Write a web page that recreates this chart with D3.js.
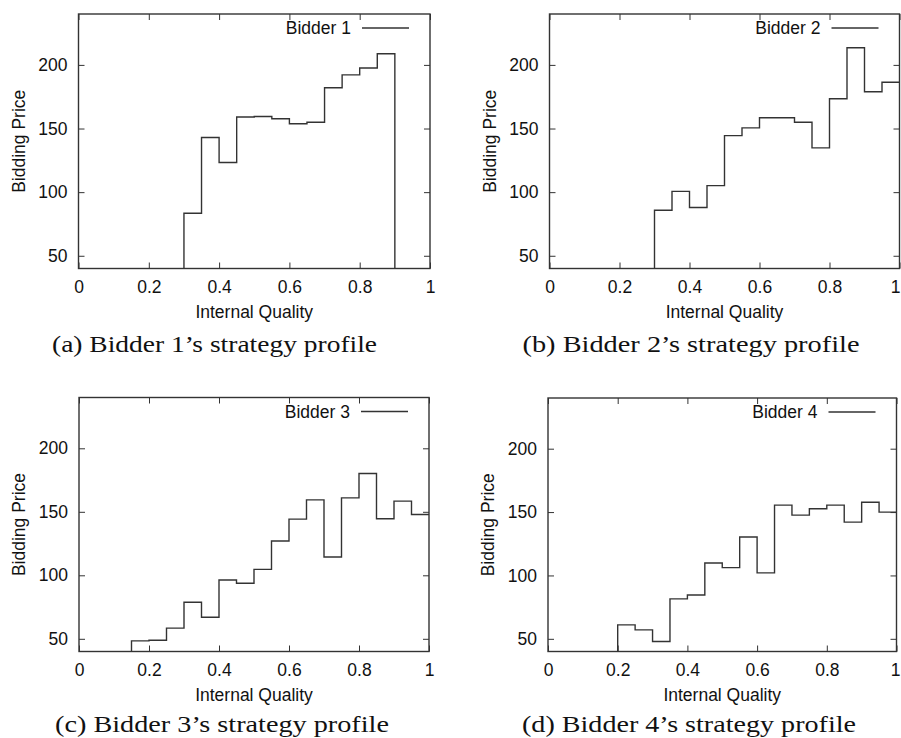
<!DOCTYPE html>
<html>
<head>
<meta charset="utf-8">
<script src="https://cdn.jsdelivr.net/npm/d3@7"></script>
<style>
  html, body { margin: 0; padding: 0; background: #fff; }
  svg { display: block; }
</style>
</head>
<body>
<svg id="chart" width="901" height="738"></svg>
<script>
// ---------------- DATA ----------------
const qualityBins = [0, 0.05, 0.1, 0.15, 0.2, 0.25, 0.3, 0.35, 0.4, 0.45,
                     0.5, 0.55, 0.6, 0.65, 0.7, 0.75, 0.8, 0.85, 0.9, 0.95];
const bidder1 = [0, 0, 0, 0, 0, 0, 83.4, 142.9, 123.3, 159, 159.5, 157.7, 153.8, 154.9, 182, 192.2, 197.6, 208.8, 0, 0];
const bidder2 = [0, 0, 0, 0, 0, 0, 85.8, 100.6, 87.9, 105.1, 144.4, 150.5, 158.5, 158.5, 154.9, 134.8, 173.4, 213.5, 178.9, 186.4];
const bidder3 = [0, 0, 0, 48.4, 48.9, 58.4, 78.8, 67, 96.3, 93.7, 104.7, 127, 144.2, 159.4, 114.4, 161, 180.1, 144.5, 158.4, 147.9];
const bidder4 = [0, 0, 0, 0, 61, 57.1, 47.9, 81.5, 84.6, 109.8, 106.2, 130.3, 102, 155.5, 147.6, 152.6, 155.5, 142.1, 157.8, 150];
const seriesNames = ["Bidder 1", "Bidder 2", "Bidder 3", "Bidder 4"];
const captions = ["(a) Bidder 1\u2019s strategy profile", "(b) Bidder 2\u2019s strategy profile",
                  "(c) Bidder 3\u2019s strategy profile", "(d) Bidder 4\u2019s strategy profile"];
const xTicks = [0, 0.2, 0.4, 0.6, 0.8, 1];
const yTicks = [50, 100, 150, 200];
const xDomain = [0, 1];
const yDomain = [40, 240];
const xLabel = "Internal Quality";
const yLabel = "Bidding Price";

// ---------------- LAYOUT ----------------
const panels = [
  { values: bidder1, left: 78.5, right: 430,   top: 14,    bottom: 268.5, capX: 214.5, capY: 352, capW: 325 },
  { values: bidder2, left: 549.5, right: 899.5, top: 14,   bottom: 268.5, capX: 691,   capY: 352, capW: 337 },
  { values: bidder3, left: 79,   right: 429,   top: 397.5, bottom: 651.5, capX: 222,   capY: 732, capW: 334 },
  { values: bidder4, left: 548,  right: 896.5, top: 398,   bottom: 651.5, capX: 689,   capY: 732, capW: 334 }
];

const ink = "#333";
const sans = "'Liberation Sans', Arial, Helvetica, sans-serif";
const serif = "'Liberation Serif', 'DejaVu Serif', serif";
const fs = 17.5;
const svg = d3.select("#chart");
const W = +svg.attr("width");

panels.forEach((p, i) => {
  const x = d3.scaleLinear().domain(xDomain).range([p.left, p.right]);
  const y = d3.scaleLinear().domain(yDomain).range([p.bottom, p.top]);
  const g = svg.append("g");

  const clipId = "clip" + i;
  g.append("clipPath").attr("id", clipId)
    .append("rect")
    .attr("x", p.left).attr("y", p.top)
    .attr("width", p.right - p.left).attr("height", p.bottom - p.top);

  const tickLen = 6;
  const axisStyle = sel => {
    sel.select(".domain").remove();
    sel.selectAll(".tick line").attr("stroke", ink).attr("stroke-width", 1);
    sel.selectAll(".tick text").attr("font-family", sans).attr("font-size", fs).attr("fill", "#111");
  };
  const bottomAxis = g.append("g").attr("transform", `translate(0,${p.bottom})`)
    .call(d3.axisBottom(x).tickValues(xTicks).tickFormat(d3.format("")).tickSizeInner(-tickLen).tickPadding(12))
    .call(axisStyle);
  // keep tick labels inside the page
  bottomAxis.selectAll(".tick text").each(function (d) {
    const bb = this.getBBox();
    const absRight = x(d) + bb.x + bb.width;
    if (absRight > W - 1) d3.select(this).attr("text-anchor", "end").attr("x", (W - 1) - x(d));
  });
  g.append("g").attr("transform", `translate(0,${p.top})`)
    .call(d3.axisTop(x).tickValues(xTicks).tickFormat("").tickSizeInner(-tickLen))
    .call(axisStyle);
  g.append("g").attr("transform", `translate(${p.left},0)`)
    .call(d3.axisLeft(y).tickValues(yTicks).tickSizeInner(-tickLen).tickPadding(11))
    .call(axisStyle);
  g.append("g").attr("transform", `translate(${p.right},0)`)
    .call(d3.axisRight(y).tickValues(yTicks).tickFormat("").tickSizeInner(-tickLen))
    .call(axisStyle);

  // step line
  const pts = qualityBins.map((q, k) => [q, p.values[k]]);
  pts.push([xDomain[1], p.values[p.values.length - 1]]);
  const line = d3.line().x(d => x(d[0])).y(d => y(d[1])).curve(d3.curveStepAfter);
  g.append("path")
    .attr("clip-path", `url(#${clipId})`)
    .attr("d", line(pts))
    .attr("fill", "none").attr("stroke", ink).attr("stroke-width", 1.4);

  // frame
  g.append("rect")
    .attr("x", p.left).attr("y", p.top)
    .attr("width", p.right - p.left).attr("height", p.bottom - p.top)
    .attr("fill", "none").attr("stroke", ink).attr("stroke-width", 1.4);

  // legend
  const ly = p.top + 14;
  g.append("text").attr("x", p.right - 79).attr("y", ly).attr("dy", "0.36em")
    .attr("text-anchor", "end").attr("font-family", sans).attr("font-size", fs).attr("fill", "#111")
    .text(seriesNames[i]);
  g.append("line").attr("x1", p.right - 68).attr("x2", p.right - 21)
    .attr("y1", ly).attr("y2", ly).attr("stroke", ink).attr("stroke-width", 1.4);

  // axis labels
  g.append("text").attr("x", (p.left + p.right) / 2).attr("y", p.bottom + 49)
    .attr("text-anchor", "middle").attr("font-family", sans).attr("font-size", fs).attr("fill", "#111")
    .text(xLabel);
  g.append("text")
    .attr("transform", `translate(${p.left - 60},${(p.top + p.bottom) / 2}) rotate(-90)`)
    .attr("dy", "0.36em")
    .attr("text-anchor", "middle").attr("font-family", sans).attr("font-size", fs).attr("fill", "#111")
    .text(yLabel);

  // caption
  g.append("text").attr("x", p.capX).attr("y", p.capY)
    .attr("text-anchor", "middle").attr("font-family", serif).attr("font-size", 23).attr("fill", "#111")
    .attr("textLength", p.capW).attr("lengthAdjust", "spacingAndGlyphs")
    .text(captions[i]);
});
</script>
</body>
</html>
